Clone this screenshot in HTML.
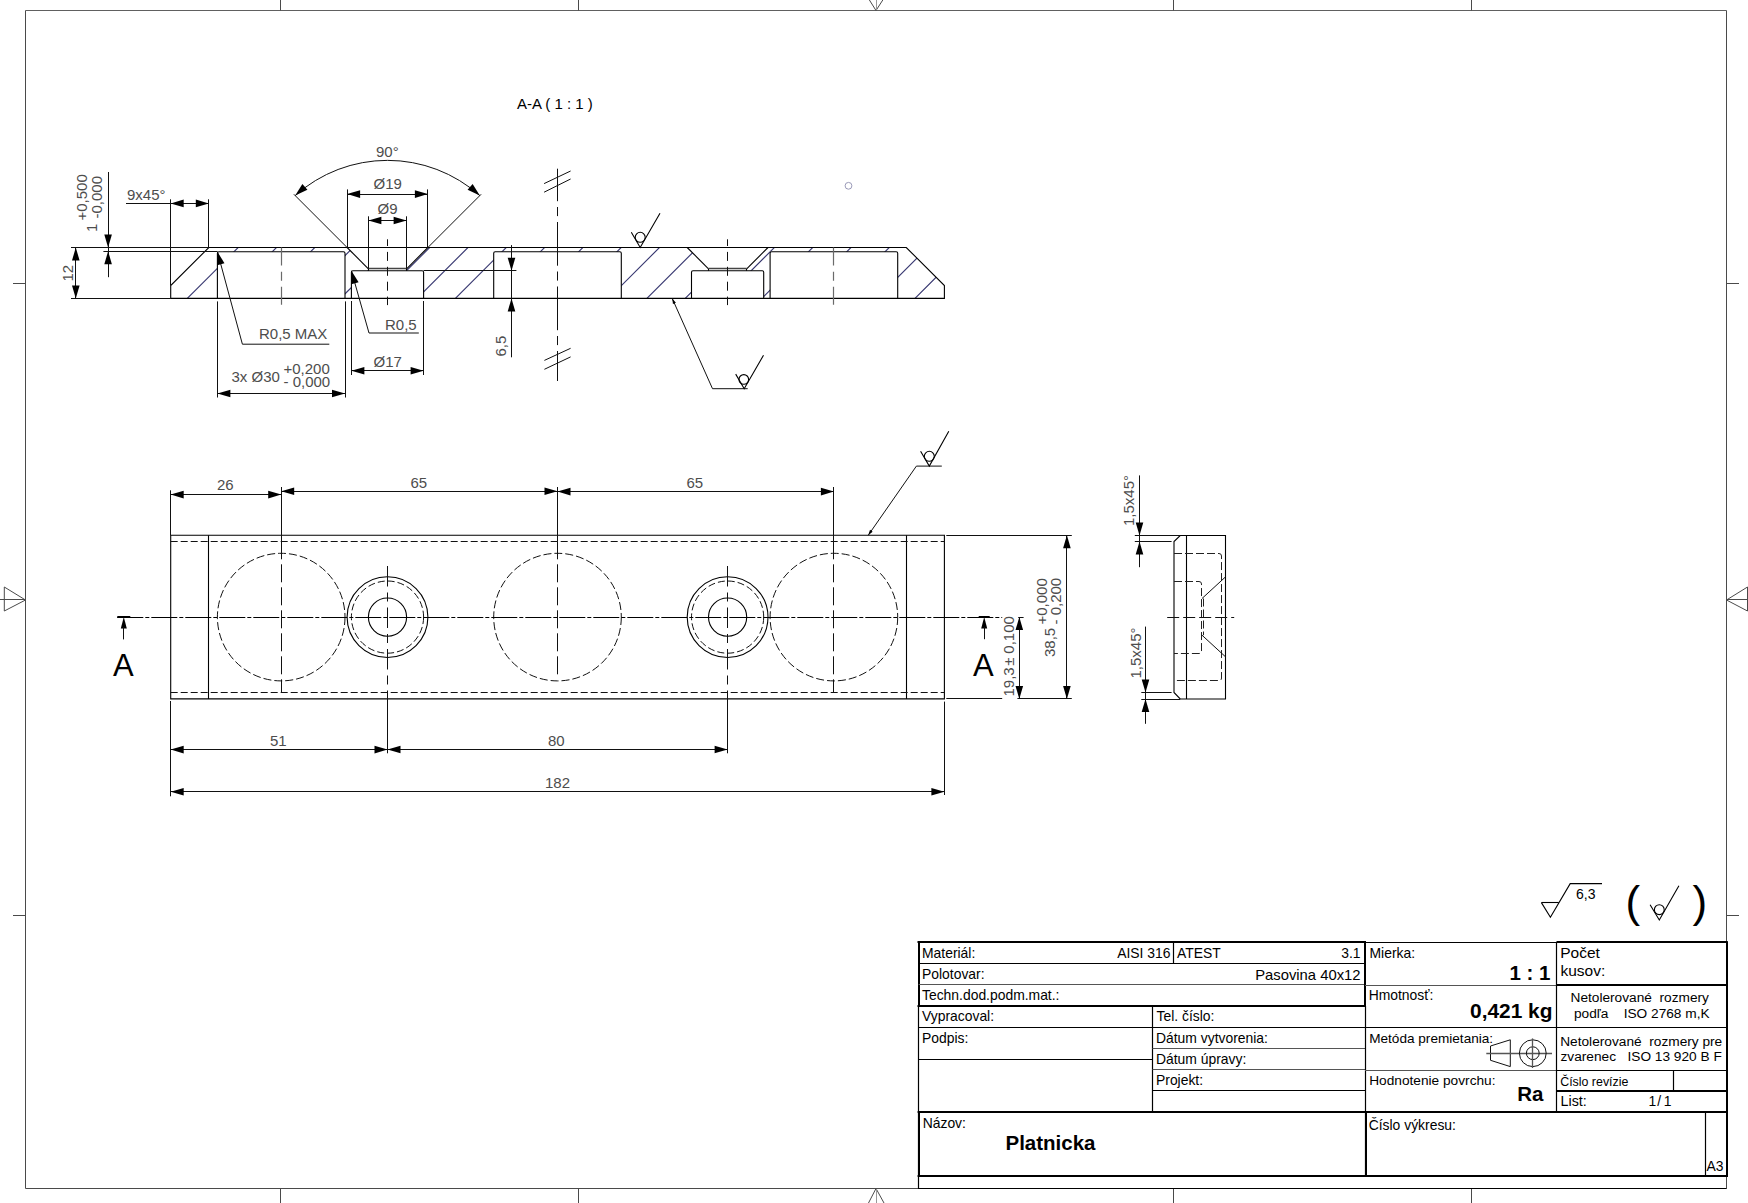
<!DOCTYPE html>
<html><head><meta charset="utf-8"><title>Platnicka</title><style>
html,body{margin:0;padding:0;background:#fff;}
body{width:1748px;height:1203px;overflow:hidden;}
svg{display:block;}
text{font-family:"Liberation Sans",sans-serif;}
.fr{stroke:#4a4a4a;stroke-width:1;fill:none;}
.frt{stroke:#606060;stroke-width:1.1;fill:none;}
.frl{stroke:#999;stroke-width:1;fill:none;}
.o{stroke:#000;stroke-width:1.1;fill:none;}
.tb{stroke:#000;stroke-width:1.2;fill:none;}
.tbt{stroke:#000;stroke-width:2;fill:none;}
.tbg{stroke:#555;stroke-width:1.2;fill:none;}
.d{stroke:#111;stroke-width:1;fill:none;}
.h{stroke:#3a3a72;stroke-width:1.15;fill:none;}
.c{stroke:#111;stroke-width:1;fill:none;stroke-dasharray:28 4 3 4;}
.hid{stroke:#111;stroke-width:1;fill:none;stroke-dasharray:7 3;}
.dt{fill:#4d4d4d;font-size:15px;}
.hidc{stroke:#111;stroke-width:1;fill:none;stroke-dasharray:8 3;}
.hidc2{stroke:#111;stroke-width:1;fill:none;stroke-dasharray:7 3;}
.c3{stroke:#000;stroke-width:1.2;fill:none;stroke-dasharray:26 2 4 2;}
.c4{stroke:#111;stroke-width:1;fill:none;stroke-dasharray:18 5;}
.c5{stroke:#111;stroke-width:1;fill:none;stroke-dasharray:20.5 6 9 6;}
.c6{stroke:#111;stroke-width:1;fill:none;stroke-dasharray:12 4;}
.hid2{stroke:#222;stroke-width:1;fill:none;stroke-dasharray:8 3;}
.od{stroke:#111;stroke-width:1;fill:none;}
.thk{stroke:#000;stroke-width:2;fill:none;}
.bigA{fill:#000;font-size:31px;}
.tt{fill:#000;font-size:13.9px;}
.tbd{fill:#000;font-size:20.5px;font-weight:bold;}
.ps{stroke:#111;stroke-width:1;fill:none;}
.psc{stroke:#555;stroke-width:1.3;fill:none;}
.ss{stroke:#000;stroke-width:1.1;fill:none;}
text{white-space:pre;}
.og{stroke:#444;stroke-width:1.4;fill:none;}
.c2{stroke:#111;stroke-width:1;fill:none;stroke-dasharray:20 4 4 4;}
.cg{stroke:#6a6a6a;stroke-width:1.2;fill:none;stroke-dasharray:18 6.3 9 5.9;}
.cb{stroke:#111;stroke-width:1;fill:none;stroke-dasharray:9 5.9;}
.cl{stroke:#111;stroke-width:1;fill:none;stroke-dasharray:43.7 5.8 9.1 5.9;}
.gc{stroke:#9a9ab8;stroke-width:1;fill:none;}
.at{fill:#000;font-size:15px;}
</style></head>
<body><svg width="1748" height="1203" viewBox="0 0 1748 1203">
<rect x="0" y="0" width="1748" height="1203" fill="#fff"/>
<line x1="25.50" y1="10.50" x2="1726.50" y2="10.50" class="frt" />
<line x1="25.50" y1="1188.50" x2="1726.50" y2="1188.50" class="fr" />
<line x1="25.50" y1="10.50" x2="25.50" y2="1188.50" class="fr" />
<line x1="1726.50" y1="10.50" x2="1726.50" y2="1188.50" class="fr" />
<line x1="280.50" y1="0.00" x2="280.50" y2="10.50" class="fr" />
<line x1="280.50" y1="1188.50" x2="280.50" y2="1203.00" class="fr" />
<line x1="578.50" y1="0.00" x2="578.50" y2="10.50" class="fr" />
<line x1="578.50" y1="1188.50" x2="578.50" y2="1203.00" class="fr" />
<line x1="1173.50" y1="0.00" x2="1173.50" y2="10.50" class="fr" />
<line x1="1173.50" y1="1188.50" x2="1173.50" y2="1203.00" class="fr" />
<line x1="1471.50" y1="0.00" x2="1471.50" y2="10.50" class="fr" />
<line x1="1471.50" y1="1188.50" x2="1471.50" y2="1203.00" class="fr" />
<line x1="13.00" y1="283.50" x2="25.50" y2="283.50" class="fr" />
<line x1="1726.50" y1="283.50" x2="1739.00" y2="283.50" class="fr" />
<line x1="13.00" y1="915.50" x2="25.50" y2="915.50" class="fr" />
<line x1="1726.50" y1="915.50" x2="1739.00" y2="915.50" class="fr" />
<path d="M869.4,0 L876,10.5 L882.8,0" class="fr" />
<line x1="876.50" y1="0.00" x2="876.50" y2="10.00" class="frl" />
<path d="M868.5,1203 L876,1188.5 L884,1203" class="fr" />
<line x1="876.50" y1="1189.00" x2="876.50" y2="1203.00" class="frl" />
<path d="M25.5,600 L4.3,587 L4.3,611 Z" class="fr" />
<line x1="0.00" y1="599.50" x2="25.50" y2="599.50" class="fr" />
<path d="M1726.5,600 L1747.5,587 L1747.5,611 Z" class="fr" />
<line x1="1726.50" y1="599.50" x2="1748.00" y2="599.50" class="fr" />
<line x1="917.50" y1="942.00" x2="1366.00" y2="942.00" class="tbt" />
<line x1="919.00" y1="941.30" x2="919.00" y2="1007.00" class="tbt" />
<line x1="918.60" y1="963.50" x2="1365.00" y2="963.50" class="tb" />
<line x1="918.60" y1="984.50" x2="1365.00" y2="984.50" class="tbg" />
<line x1="917.50" y1="1006.00" x2="1366.00" y2="1006.00" class="tbt" />
<line x1="1173.50" y1="942.00" x2="1173.50" y2="963.50" class="tb" />
<line x1="1365.00" y1="941.30" x2="1365.00" y2="1007.00" class="tbt" />
<line x1="918.50" y1="1006.00" x2="918.50" y2="1188.50" class="tb" />
<line x1="1152.50" y1="1006.00" x2="1152.50" y2="1112.50" class="tb" />
<line x1="918.60" y1="1027.50" x2="1365.00" y2="1027.50" class="tb" />
<line x1="918.60" y1="1059.50" x2="1152.50" y2="1059.50" class="tb" />
<line x1="1152.50" y1="1048.50" x2="1365.00" y2="1048.50" class="tbg" />
<line x1="1152.50" y1="1069.50" x2="1365.00" y2="1069.50" class="tbg" />
<line x1="1152.50" y1="1090.50" x2="1365.00" y2="1090.50" class="tb" />
<line x1="917.60" y1="1112.00" x2="1727.50" y2="1112.00" class="tbt" />
<line x1="919.00" y1="1111.50" x2="919.00" y2="1177.00" class="tbt" />
<line x1="917.60" y1="1176.00" x2="1727.50" y2="1176.00" class="tbt" />
<line x1="1365.00" y1="942.50" x2="1556.50" y2="942.50" class="tb" />
<line x1="1365.50" y1="1006.00" x2="1365.50" y2="1177.00" class="tb" />
<line x1="1366.00" y1="1112.00" x2="1366.00" y2="1177.00" class="tbt" />
<line x1="1365.00" y1="985.50" x2="1556.50" y2="985.50" class="tbg" />
<line x1="1365.00" y1="1027.50" x2="1556.50" y2="1027.50" class="tb" />
<line x1="1365.00" y1="1070.50" x2="1556.50" y2="1070.50" class="tbg" />
<line x1="1705.50" y1="1112.50" x2="1705.50" y2="1176.00" class="tb" />
<line x1="1556.50" y1="942.00" x2="1727.50" y2="942.00" class="tbt" />
<line x1="1556.50" y1="942.00" x2="1556.50" y2="1112.50" class="tb" />
<line x1="1556.50" y1="985.00" x2="1727.50" y2="985.00" class="tbt" />
<line x1="1556.50" y1="1027.50" x2="1726.50" y2="1027.50" class="tb" />
<line x1="1556.50" y1="1070.50" x2="1726.50" y2="1070.50" class="tb" />
<line x1="1556.50" y1="1091.00" x2="1727.50" y2="1091.00" class="tbt" />
<line x1="1673.50" y1="1070.40" x2="1673.50" y2="1091.20" class="tb" />
<line x1="1727.00" y1="941.30" x2="1727.00" y2="1177.00" class="tbt" />
<text x="922.00" y="958.00" class="tt" >Materiál:</text>
<text x="1170.50" y="958.00" class="tt" text-anchor="end" >AISI 316</text>
<text x="1177.00" y="958.00" class="tt" >ATEST</text>
<text x="1360.50" y="958.00" class="tt" text-anchor="end" >3.1</text>
<text x="922.00" y="979.00" class="tt" >Polotovar:</text>
<text x="1360.50" y="980.00" class="tt" text-anchor="end" style="font-size:14.8px" >Pasovina 40x12</text>
<text x="922.00" y="1000.00" class="tt" >Techn.dod.podm.mat.:</text>
<text x="922.00" y="1021.00" class="tt" >Vypracoval:</text>
<text x="922.00" y="1043.00" class="tt" >Podpis:</text>
<text x="1156.50" y="1020.70" class="tt" >Tel. číslo:</text>
<text x="1156.00" y="1042.80" class="tt" >Dátum vytvorenia:</text>
<text x="1156.00" y="1063.80" class="tt" >Dátum úpravy:</text>
<text x="1156.00" y="1084.60" class="tt" >Projekt:</text>
<text x="922.70" y="1127.80" class="tt" >Názov:</text>
<text x="1005.50" y="1150.00" class="tbd" >Platnicka</text>
<text x="1369.50" y="958.20" class="tt" >Mierka:</text>
<text x="1550.50" y="980.00" class="tbd" text-anchor="end" >1 : 1</text>
<text x="1368.70" y="999.50" class="tt" >Hmotnosť:</text>
<text x="1552.50" y="1017.80" class="tbd" text-anchor="end" style="font-size:20.9px" >0,421 kg</text>
<text x="1369.20" y="1042.60" class="tt" style="font-size:13.6px" >Metóda premietania:</text>
<text x="1369.20" y="1085.00" class="tt" style="font-size:13.7px" >Hodnotenie povrchu:</text>
<text x="1543.50" y="1100.60" class="tbd" text-anchor="end" >Ra</text>
<text x="1368.70" y="1129.50" class="tt" >Číslo výkresu:</text>
<text x="1706.50" y="1171.00" class="tt" >A3</text>
<text x="1560.20" y="957.60" class="tt" style="font-size:15.5px" >Počet</text>
<text x="1560.50" y="975.70" class="tt" style="font-size:15.5px" >kusov:</text>
<text x="1570.50" y="1002.30" class="tt" style="font-size:13.7px" >Netolerované  rozmery</text>
<text x="1574.00" y="1017.50" class="tt" style="font-size:13.7px" >podľa    ISO 2768 m,K</text>
<text x="1560.20" y="1045.50" class="tt" style="font-size:13.7px" >Netolerované  rozmery pre</text>
<text x="1560.50" y="1060.70" class="tt" style="font-size:13.7px" >zvarenec   ISO 13 920 B F</text>
<text x="1560.20" y="1086.40" class="tt" style="font-size:12.4px" >Číslo revízie</text>
<text x="1560.50" y="1106.40" class="tt" style="font-size:14.3px" >List:</text>
<text x="1648.60" y="1106.40" class="tt" >1</text>
<text x="1657.30" y="1106.40" class="tt" >/</text>
<text x="1663.80" y="1106.40" class="tt" >1</text>
<path d="M1490.5,1046 L1510.3,1039.8 L1510.3,1066.6 L1490.5,1060.3 Z" class="ps" />
<line x1="1486.30" y1="1053.50" x2="1552.00" y2="1053.50" class="psc" />
<circle cx="1532.80" cy="1053.20" r="13.40" class="ps" />
<circle cx="1532.80" cy="1053.20" r="6.40" class="ps" />
<line x1="1532.50" y1="1038.40" x2="1532.50" y2="1068.00" class="psc" />
<path d="M1541.4,902.6 L1550.4,917.3 L1570.2,883.6 L1602,883.6" class="ss" />
<line x1="1541.40" y1="902.50" x2="1558.80" y2="902.50" class="ss" />
<text x="1576.00" y="898.80" class="tt" style="font-size:14px" >6,3</text>
<text x="1625.50" y="917.00" class="tt" style="font-size:44px" >(</text>
<text x="1692.50" y="917.00" class="tt" style="font-size:44px" >)</text>
<path d="M1650.1,904.8 L1659.3,920 L1678.9,885.8" class="ss" />
<circle cx="1659.30" cy="909.70" r="4.90" class="ss" />
<line x1="918.00" y1="1188.50" x2="1726.50" y2="1188.50" class="tb" />
<defs><clipPath id="hc"><path d="M208.8,247.5 L906.3,247.5 L944.4,285.6 L944.4,298.4 L170.7,298.4 L170.7,285.6 Z M217.40,251.7 L345.00,251.7 L345.00,298.4 L217.40,298.4 Z M493.70,251.7 L621.30,251.7 L621.30,298.4 L493.70,298.4 Z M770.10,251.7 L897.70,251.7 L897.70,298.4 L770.10,298.4 Z M347.10,247.50 L427.90,247.50 L406.60,268.80 L406.60,270.80 L423.60,270.80 L423.60,298.40 L351.40,298.40 L351.40,270.80 L368.40,270.80 L368.40,268.80 Z M687.20,247.50 L768.00,247.50 L746.70,268.80 L746.70,270.80 L763.70,270.80 L763.70,298.40 L691.50,298.40 L691.50,270.80 L708.50,270.80 L708.50,268.80 Z" clip-rule="evenodd"/></clipPath></defs>
<path d="M137.40,310 L212.40,235 M175.70,310 L250.70,235 M214.00,310 L289.00,235 M252.30,310 L327.30,235 M290.60,310 L365.60,235 M328.90,310 L403.90,235 M367.20,310 L442.20,235 M405.50,310 L480.50,235 M443.80,310 L518.80,235 M482.10,310 L557.10,235 M520.40,310 L595.40,235 M558.70,310 L633.70,235 M597.00,310 L672.00,235 M635.30,310 L710.30,235 M673.60,310 L748.60,235 M711.90,310 L786.90,235 M750.20,310 L825.20,235 M788.50,310 L863.50,235 M826.80,310 L901.80,235 M865.10,310 L940.10,235 M903.40,310 L978.40,235 M941.70,310 L1016.70,235 M980.00,310 L1055.00,235" class="h" clip-path="url(#hc)"/>
<path d="M208.8,247.5 L906.3,247.5 L944.4,285.6 L944.4,298.4 L170.7,298.4 L170.7,285.6 Z" class="o" />
<path d="M217.40,298.4 L217.40,253.20 Q217.40,251.7 218.90,251.7 L343.50,251.7 Q345.00,251.7 345.00,253.20 L345.00,298.4" class="o" />
<path d="M493.70,298.4 L493.70,253.20 Q493.70,251.7 495.20,251.7 L619.80,251.7 Q621.30,251.7 621.30,253.20 L621.30,298.4" class="o" />
<path d="M770.10,298.4 L770.10,253.20 Q770.10,251.7 771.60,251.7 L896.20,251.7 Q897.70,251.7 897.70,253.20 L897.70,298.4" class="o" />
<line x1="347.10" y1="247.50" x2="368.40" y2="268.80" class="o" />
<line x1="427.90" y1="247.50" x2="406.60" y2="268.80" class="o" />
<line x1="368.40" y1="268.50" x2="406.60" y2="268.50" class="og" />
<line x1="368.50" y1="268.80" x2="368.50" y2="270.80" class="o" />
<line x1="406.50" y1="268.80" x2="406.50" y2="270.80" class="o" />
<path d="M351.40,298.4 L351.40,272.30 Q351.40,270.8 352.90,270.8 L422.10,270.8 Q423.60,270.8 423.60,272.30 L423.60,298.4" class="o" />
<line x1="687.20" y1="247.50" x2="708.50" y2="268.80" class="o" />
<line x1="768.00" y1="247.50" x2="746.70" y2="268.80" class="o" />
<line x1="708.50" y1="268.50" x2="746.70" y2="268.50" class="og" />
<line x1="708.50" y1="268.80" x2="708.50" y2="270.80" class="o" />
<line x1="746.50" y1="268.80" x2="746.50" y2="270.80" class="o" />
<path d="M691.50,298.4 L691.50,272.30 Q691.50,270.8 693.00,270.8 L762.20,270.8 Q763.70,270.8 763.70,272.30 L763.70,298.4" class="o" />
<line x1="281.50" y1="247.50" x2="281.50" y2="304.80" class="cg" />
<line x1="833.50" y1="247.50" x2="833.50" y2="304.80" class="cg" />
<line x1="387.50" y1="239.30" x2="387.50" y2="305.10" class="cb" stroke-dashoffset="2.3"/>
<line x1="727.50" y1="239.30" x2="727.50" y2="305.10" class="cb" stroke-dashoffset="2.3"/>
<line x1="557.50" y1="168.70" x2="557.50" y2="381.00" class="cl" stroke-dashoffset="11.2"/>
<line x1="544.10" y1="183.60" x2="570.60" y2="171.00" class="d" />
<line x1="544.10" y1="192.20" x2="570.60" y2="179.00" class="d" />
<line x1="544.40" y1="360.40" x2="570.60" y2="348.30" class="d" />
<line x1="544.40" y1="369.30" x2="570.60" y2="356.90" class="d" />
<line x1="71.00" y1="247.50" x2="208.80" y2="247.50" class="d" />
<line x1="71.00" y1="298.50" x2="170.70" y2="298.50" class="d" />
<line x1="75.50" y1="247.50" x2="75.50" y2="298.40" class="d" />
<path d="M75.80,247.50 L79.60,260.50 L72.00,260.50 Z" fill="#000" stroke="none"/>
<path d="M75.80,298.40 L72.00,285.40 L79.60,285.40 Z" fill="#000" stroke="none"/>
<text x="72.50" y="281.50" class="dt" transform="rotate(-90 72.50 281.50)" >12</text>
<line x1="108.50" y1="172.00" x2="108.50" y2="277.20" class="d" />
<path d="M108.10,247.50 L104.30,234.50 L111.90,234.50 Z" fill="#000" stroke="none"/>
<path d="M108.10,251.20 L111.90,264.20 L104.30,264.20 Z" fill="#000" stroke="none"/>
<line x1="103.40" y1="251.50" x2="217.40" y2="251.50" class="d" />
<text x="96.70" y="232.00" class="dt" transform="rotate(-90 96.70 232.00)" >1</text>
<text x="87.40" y="220.50" class="dt" transform="rotate(-90 87.40 220.50)" >+0,500</text>
<text x="102.40" y="218.50" class="dt" transform="rotate(-90 102.40 218.50)" >-0,000</text>
<text x="127.00" y="199.90" class="dt" >9x45°</text>
<line x1="126.00" y1="203.50" x2="208.80" y2="203.50" class="d" />
<path d="M170.70,203.40 L183.70,199.60 L183.70,207.20 Z" fill="#000" stroke="none"/>
<path d="M208.80,203.40 L195.80,207.20 L195.80,199.60 Z" fill="#000" stroke="none"/>
<line x1="170.50" y1="199.30" x2="170.50" y2="285.60" class="d" />
<line x1="208.50" y1="199.30" x2="208.50" y2="247.50" class="d" />
<text x="259.00" y="338.80" class="dt" >R0,5 MAX</text>
<path d="M329.3,344.2 L242.4,344.2 L217.4,251.7" class="d" />
<path d="M217.40,251.70 L224.46,263.26 L217.12,265.24 Z" fill="#000" stroke="none"/>
<line x1="217.50" y1="301.40" x2="217.50" y2="397.50" class="d" />
<line x1="345.50" y1="301.40" x2="345.50" y2="397.50" class="d" />
<line x1="217.40" y1="393.50" x2="345.00" y2="393.50" class="d" />
<path d="M217.40,393.50 L230.40,389.70 L230.40,397.30 Z" fill="#000" stroke="none"/>
<path d="M345.00,393.50 L332.00,397.30 L332.00,389.70 Z" fill="#000" stroke="none"/>
<text x="231.50" y="382.00" class="dt" >3x Ø30</text>
<text x="283.50" y="373.50" class="dt" >+0,200</text>
<text x="283.50" y="386.90" class="dt" >- 0,000</text>
<text x="385.00" y="329.50" class="dt" >R0,5</text>
<path d="M418.8,333 L369,333 L351.4,270.8" class="d" />
<path d="M351.40,270.80 L358.60,282.27 L351.28,284.34 Z" fill="#000" stroke="none"/>
<line x1="351.50" y1="301.00" x2="351.50" y2="375.00" class="d" />
<line x1="423.50" y1="301.00" x2="423.50" y2="375.00" class="d" />
<line x1="351.40" y1="370.50" x2="423.60" y2="370.50" class="d" />
<path d="M351.40,370.70 L364.40,366.90 L364.40,374.50 Z" fill="#000" stroke="none"/>
<path d="M423.60,370.70 L410.60,374.50 L410.60,366.90 Z" fill="#000" stroke="none"/>
<text x="373.50" y="367.30" class="dt" >Ø17</text>
<line x1="347.50" y1="189.40" x2="347.50" y2="247.50" class="d" />
<line x1="427.50" y1="189.40" x2="427.50" y2="247.50" class="d" />
<line x1="347.10" y1="194.50" x2="427.90" y2="194.50" class="d" />
<path d="M347.10,194.10 L360.10,190.30 L360.10,197.90 Z" fill="#000" stroke="none"/>
<path d="M427.90,194.10 L414.90,197.90 L414.90,190.30 Z" fill="#000" stroke="none"/>
<text x="373.50" y="188.70" class="dt" >Ø19</text>
<line x1="368.50" y1="216.30" x2="368.50" y2="268.80" class="d" />
<line x1="406.50" y1="216.30" x2="406.50" y2="268.80" class="d" />
<line x1="368.40" y1="220.50" x2="406.60" y2="220.50" class="d" />
<path d="M368.40,220.50 L381.40,216.70 L381.40,224.30 Z" fill="#000" stroke="none"/>
<path d="M406.60,220.50 L393.60,224.30 L393.60,216.70 Z" fill="#000" stroke="none"/>
<text x="377.50" y="214.20" class="dt" >Ø9</text>
<line x1="347.10" y1="247.50" x2="293.90" y2="194.30" class="d" />
<line x1="427.90" y1="247.50" x2="481.10" y2="194.30" class="d" />
<path d="M295.20,195.60 A138.5,138.5 0 0 1 479.80,195.60" class="d" />
<path d="M295.20,195.60 L302.35,184.10 L307.42,189.76 Z" fill="#000" stroke="none"/>
<path d="M479.80,195.60 L467.58,189.76 L472.65,184.10 Z" fill="#000" stroke="none"/>
<text x="376.00" y="156.90" class="dt" >90°</text>
<line x1="423.60" y1="270.50" x2="516.40" y2="270.50" class="d" />
<line x1="511.50" y1="245.10" x2="511.50" y2="357.30" class="d" />
<path d="M511.50,270.80 L507.70,257.80 L515.30,257.80 Z" fill="#000" stroke="none"/>
<path d="M511.50,298.40 L515.30,311.40 L507.70,311.40 Z" fill="#000" stroke="none"/>
<text x="506.00" y="356.50" class="dt" transform="rotate(-90 506.00 356.50)" >6,5</text>
<path d="M631.30,232.20 L640.20,247.50 L660.00,213.20" class="ss" />
<circle cx="640.20" cy="237.30" r="5.00" class="ss" />
<path d="M672.2,298.4 L712.5,388.7 L747.7,388.7" class="d" />
<path d="M672.20,298.40 L675.90,302.77 L672.98,304.07 Z" fill="#000" stroke="none"/>
<path d="M735.70,374.10 L744.20,388.70 L763.50,355.20" class="ss" />
<circle cx="743.80" cy="379.40" r="4.80" class="ss" />
<circle cx="848.50" cy="185.80" r="3.40" class="gc" />
<text x="517.00" y="108.90" class="at" >A-A ( 1 : 1 )</text>
<path d="M170.7,535.3 L944.4,535.3 L944.4,698.9 L170.7,698.9 Z" class="o" />
<line x1="208.50" y1="535.30" x2="208.50" y2="698.90" class="o" />
<line x1="906.50" y1="535.30" x2="906.50" y2="698.90" class="o" />
<line x1="170.70" y1="541.50" x2="944.40" y2="541.50" class="hid" />
<line x1="170.70" y1="692.50" x2="944.40" y2="692.50" class="hid" />
<circle cx="281.20" cy="617.10" r="63.80" class="hidc" />
<circle cx="557.50" cy="617.10" r="63.80" class="hidc" />
<circle cx="833.90" cy="617.10" r="63.80" class="hidc" />
<circle cx="387.50" cy="617.10" r="40.40" class="o" />
<circle cx="387.50" cy="617.10" r="36.10" class="hidc2" />
<circle cx="387.50" cy="617.10" r="19.10" class="o" />
<circle cx="727.60" cy="617.10" r="40.40" class="o" />
<circle cx="727.60" cy="617.10" r="36.10" class="hidc2" />
<circle cx="727.60" cy="617.10" r="19.10" class="o" />
<line x1="117.30" y1="617.50" x2="1002.20" y2="617.50" class="c3" />
<line x1="1018.20" y1="617.50" x2="1023.60" y2="617.50" class="d" />
<line x1="281.50" y1="487.00" x2="281.50" y2="541.30" class="d" />
<line x1="281.50" y1="541.30" x2="281.50" y2="692.50" class="c4" />
<line x1="557.50" y1="487.00" x2="557.50" y2="541.30" class="d" />
<line x1="557.50" y1="541.30" x2="557.50" y2="676.00" class="c4" />
<line x1="833.50" y1="487.00" x2="833.50" y2="541.30" class="d" />
<line x1="833.50" y1="541.30" x2="833.50" y2="692.50" class="c4" />
<line x1="387.50" y1="566.00" x2="387.50" y2="698.90" class="c5" />
<line x1="387.50" y1="698.90" x2="387.50" y2="753.30" class="d" />
<line x1="727.50" y1="566.00" x2="727.50" y2="698.90" class="c5" />
<line x1="727.50" y1="698.90" x2="727.50" y2="753.30" class="d" />
<line x1="117.30" y1="617.00" x2="130.30" y2="617.00" class="thk" />
<path d="M123.80,617.10 L126.80,628.60 L120.80,628.60 Z" fill="#000" stroke="none"/>
<line x1="123.50" y1="627.10" x2="123.50" y2="639.40" class="d" />
<text x="113.00" y="676.10" class="bigA" >A</text>
<line x1="978.70" y1="617.00" x2="989.70" y2="617.00" class="thk" />
<path d="M984.20,617.10 L987.20,628.60 L981.20,628.60 Z" fill="#000" stroke="none"/>
<line x1="984.50" y1="627.10" x2="984.50" y2="639.20" class="d" />
<text x="973.00" y="675.50" class="bigA" >A</text>
<line x1="170.50" y1="490.30" x2="170.50" y2="535.30" class="d" />
<line x1="170.70" y1="494.50" x2="281.20" y2="494.50" class="d" />
<path d="M170.70,494.60 L183.70,490.80 L183.70,498.40 Z" fill="#000" stroke="none"/>
<path d="M281.20,494.60 L268.20,498.40 L268.20,490.80 Z" fill="#000" stroke="none"/>
<text x="217.00" y="490.30" class="dt" >26</text>
<line x1="281.20" y1="491.50" x2="557.50" y2="491.50" class="d" />
<path d="M281.20,491.30 L294.20,487.50 L294.20,495.10 Z" fill="#000" stroke="none"/>
<path d="M557.50,491.30 L544.50,495.10 L544.50,487.50 Z" fill="#000" stroke="none"/>
<text x="410.50" y="487.70" class="dt" >65</text>
<line x1="557.50" y1="491.50" x2="833.90" y2="491.50" class="d" />
<path d="M557.50,491.60 L570.50,487.80 L570.50,495.40 Z" fill="#000" stroke="none"/>
<path d="M833.90,491.60 L820.90,495.40 L820.90,487.80 Z" fill="#000" stroke="none"/>
<text x="686.50" y="487.80" class="dt" >65</text>
<path d="M868.2,535.3 L916.4,466.1 L941.8,466.1" class="d" />
<path d="M868.20,535.30 L870.03,529.87 L872.66,531.70 Z" fill="#000" stroke="none"/>
<path d="M920.60,451.20 L929.30,466.10 L948.80,431.20" class="ss" />
<circle cx="929.30" cy="456.30" r="5.00" class="ss" />
<line x1="946.30" y1="535.50" x2="1071.80" y2="535.50" class="d" />
<line x1="946.30" y1="698.50" x2="1002.20" y2="698.50" class="d" />
<line x1="1017.40" y1="698.50" x2="1071.80" y2="698.50" class="d" />
<line x1="1066.50" y1="535.30" x2="1066.50" y2="698.90" class="d" />
<path d="M1066.90,535.30 L1070.70,548.30 L1063.10,548.30 Z" fill="#000" stroke="none"/>
<path d="M1066.90,698.90 L1063.10,685.90 L1070.70,685.90 Z" fill="#000" stroke="none"/>
<text x="1054.50" y="657.00" class="dt" transform="rotate(-90 1054.50 657.00)" >38,5</text>
<text x="1046.90" y="624.50" class="dt" transform="rotate(-90 1046.90 624.50)" >+0,000</text>
<text x="1061.00" y="624.50" class="dt" transform="rotate(-90 1061.00 624.50)" >- 0,200</text>
<line x1="1019.50" y1="617.10" x2="1019.50" y2="698.90" class="d" />
<path d="M1019.30,617.10 L1023.10,630.10 L1015.50,630.10 Z" fill="#000" stroke="none"/>
<path d="M1019.30,698.90 L1015.50,685.90 L1023.10,685.90 Z" fill="#000" stroke="none"/>
<text x="1013.5" y="696.5" class="dt" transform="rotate(-90 1013.5 696.5)">19,3<tspan dx="1.6">±</tspan><tspan dx="3.8">0,100</tspan></text>
<line x1="170.50" y1="701.00" x2="170.50" y2="796.30" class="d" />
<line x1="170.70" y1="749.50" x2="387.50" y2="749.50" class="d" />
<path d="M170.70,749.60 L183.70,745.80 L183.70,753.40 Z" fill="#000" stroke="none"/>
<path d="M387.50,749.60 L374.50,753.40 L374.50,745.80 Z" fill="#000" stroke="none"/>
<text x="270.00" y="746.00" class="dt" >51</text>
<line x1="387.50" y1="749.50" x2="727.60" y2="749.50" class="d" />
<path d="M387.50,749.50 L400.50,745.70 L400.50,753.30 Z" fill="#000" stroke="none"/>
<path d="M727.60,749.50 L714.60,753.30 L714.60,745.70 Z" fill="#000" stroke="none"/>
<text x="548.00" y="745.80" class="dt" >80</text>
<line x1="944.50" y1="701.60" x2="944.50" y2="795.00" class="d" />
<line x1="170.70" y1="791.50" x2="944.40" y2="791.50" class="d" />
<path d="M170.70,791.80 L183.70,788.00 L183.70,795.60 Z" fill="#000" stroke="none"/>
<path d="M944.40,791.80 L931.40,795.60 L931.40,788.00 Z" fill="#000" stroke="none"/>
<text x="545.00" y="788.40" class="dt" >182</text>
<path d="M1180.2,535.5 L1225.5,535.5 L1225.5,699 L1180.2,699 L1174,692.5 L1174,541.5 Z" class="o" />
<line x1="1186.50" y1="535.50" x2="1186.50" y2="699.00" class="o" />
<path d="M1174,553.5 L1219,553.5 Q1221.5,553.5 1221.5,556 L1221.5,678 Q1221.5,680.5 1219,680.5 L1174,680.5" class="hid2" />
<path d="M1174,581.5 L1199,581.5 Q1201.5,581.5 1201.5,584 L1201.5,651 Q1201.5,653.5 1199,653.5 L1174,653.5" class="hid2" />
<line x1="1202.00" y1="598.50" x2="1225.50" y2="576.90" class="od" />
<line x1="1202.00" y1="635.20" x2="1225.50" y2="656.80" class="od" />
<line x1="1203.50" y1="598.50" x2="1203.50" y2="635.20" class="hid2" />
<line x1="1167.20" y1="617.50" x2="1234.20" y2="617.50" class="c6" />
<line x1="1139.50" y1="475.40" x2="1139.50" y2="567.20" class="d" />
<path d="M1139.50,535.50 L1135.70,522.50 L1143.30,522.50 Z" fill="#000" stroke="none"/>
<path d="M1139.50,541.50 L1143.30,554.50 L1135.70,554.50 Z" fill="#000" stroke="none"/>
<line x1="1134.80" y1="535.50" x2="1180.20" y2="535.50" class="d" />
<line x1="1134.80" y1="541.50" x2="1171.60" y2="541.50" class="d" />
<text x="1134.00" y="526.00" class="dt" transform="rotate(-90 1134.00 526.00)" >1,5x45°</text>
<line x1="1145.50" y1="626.60" x2="1145.50" y2="723.80" class="d" />
<path d="M1145.50,692.50 L1141.70,679.50 L1149.30,679.50 Z" fill="#000" stroke="none"/>
<path d="M1145.50,699.00 L1149.30,712.00 L1141.70,712.00 Z" fill="#000" stroke="none"/>
<line x1="1141.30" y1="692.50" x2="1171.60" y2="692.50" class="d" />
<line x1="1141.30" y1="699.50" x2="1180.20" y2="699.50" class="d" />
<text x="1141.00" y="678.50" class="dt" transform="rotate(-90 1141.00 678.50)" >1,5x45°</text>
</svg></body></html>
